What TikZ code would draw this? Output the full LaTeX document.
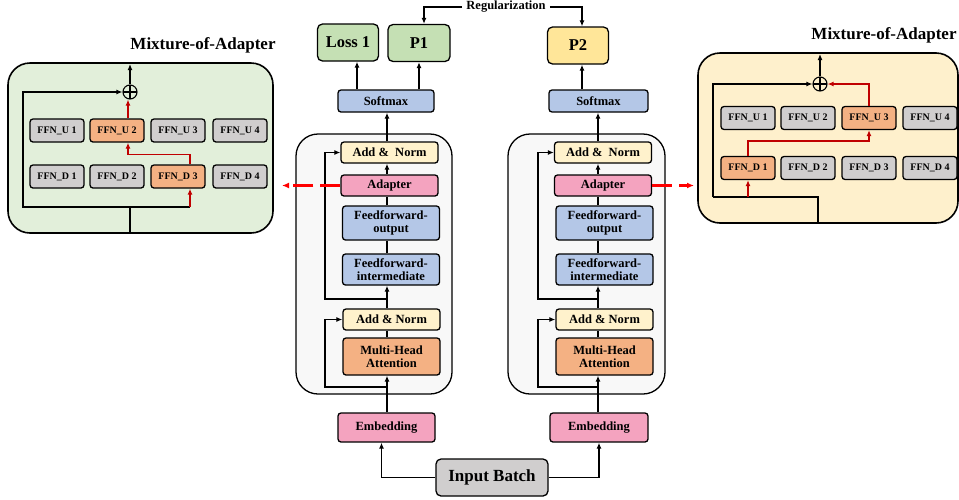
\documentclass[tikz,border=0pt]{standalone}
\usepackage{fontspec}
\setmainfont{Liberation Serif}
\usetikzlibrary{arrows.meta}
\definecolor{boxgreen}{HTML}{C5E0B4}
\definecolor{boxyellow}{HTML}{FFE699}
\definecolor{boxblue}{HTML}{B4C7E7}
\definecolor{normyellow}{HTML}{FFF2CC}
\definecolor{boxorange}{HTML}{F4B183}
\definecolor{boxpink}{HTML}{F4A3BF}
\definecolor{ffngray}{HTML}{D0CECE}
\definecolor{panelgreen}{HTML}{E2EFDA}
\definecolor{panelyellow}{HTML}{FEF0CC}
\definecolor{blockbg}{HTML}{F8F8F8}
\definecolor{adred}{HTML}{C00000}
\definecolor{linkred}{HTML}{FF0000}

\begin{document}
\begin{tikzpicture}[
    x=1pt, y=-1pt,
    box/.style={rectangle, rounded corners=3pt, draw=black, line width=1.3pt, align=center, inner sep=1pt, font=\bfseries\fontsize{12.5}{13.5}\selectfont},
    layer/.style={box, minimum width=97pt, minimum height=21pt},
    outbox/.style={box, rounded corners=5pt, minimum width=61pt, minimum height=37pt, font=\bfseries\fontsize{16.5}{18}\selectfont},
    ffn/.style={box, fill=ffngray, minimum width=54pt, minimum height=23pt, font=\bfseries\fontsize{10}{11}\selectfont},
    panel/.style={rounded corners=22pt, draw=black, line width=1.6pt},
    plus/.style={circle, draw=black, line width=1.1pt, minimum size=14pt, inner sep=0pt, path picture={\draw[line width=1.1pt] (path picture bounding box.north) -- (path picture bounding box.south) (path picture bounding box.west) -- (path picture bounding box.east);}},
    line/.style={line width=1.7pt},
    arrow/.style={-{Latex[length=6pt,width=5pt]}, line width=1.7pt},
    redarrow/.style={arrow, draw=adred},
    dasharrow/.style={-{Latex[length=7pt,width=6pt]}, line width=2.2pt, draw=linkred, dash pattern=on 20pt off 7pt},
    title/.style={font=\bfseries\fontsize{17}{18}\selectfont}
]
    \useasboundingbox (0,0) rectangle (959,499);

    \draw[panel, fill=panelgreen] (8,63) rectangle (273,233);
    \draw[panel, fill=panelyellow] (698,53) rectangle (958,223);
    \draw[panel, line width=1.3pt, fill=blockbg] (296,134) rectangle (452,394);
    \draw[panel, line width=1.3pt, fill=blockbg] (508,134) rectangle (665,394);

    \node[title] (titleL) at (203,45) {Mixture-of-Adapter};
    \node[title] (titleR) at (884,35) {Mixture-of-Adapter};

    \node[outbox, fill=boxgreen] (loss) at (348,42.5) {Loss 1};
    \node[outbox, fill=boxgreen, minimum width=62pt] (p1) at (419,43) {P1};
    \node[outbox, fill=boxyellow] (p2) at (578,45.5) {P2};
    \node[inner sep=4pt, font=\bfseries\fontsize{12.5}{13.5}\selectfont] (reg) at (506,7) {Regularization};

    \node[layer, fill=boxblue, minimum width=96pt, minimum height=22pt] (smL) at (386,101) {Softmax};
    \node[layer, fill=normyellow] (anL1) at (389.5,152.5) {Add \&\ \ Norm};
    \node[layer, fill=boxpink] (adL) at (389.5,185.5) {Adapter};
    \node[layer, fill=boxblue, minimum height=34pt] (ffoL) at (391,223) {Feedforward-\\output};
    \node[layer, fill=boxblue, minimum height=31pt] (ffiL) at (391,269.5) {Feedforward-\\intermediate};
    \node[layer, fill=normyellow] (anL2) at (391.5,319.5) {Add \& Norm};
    \node[layer, fill=boxorange, minimum height=37pt] (mhaL) at (391.5,356.5) {Multi-Head\\Attention};
    \node[layer, fill=boxpink, minimum height=29pt] (embL) at (386.5,427.5) {Embedding};

    \node[layer, fill=boxblue, minimum width=99pt, minimum height=22pt] (smR) at (598.5,101) {Softmax};
    \node[layer, fill=normyellow] (anR1) at (603,152.5) {Add \&\ \ Norm};
    \node[layer, fill=boxpink] (adR) at (603,185.5) {Adapter};
    \node[layer, fill=boxblue, minimum height=34pt] (ffoR) at (604.5,223) {Feedforward-\\output};
    \node[layer, fill=boxblue, minimum height=31pt] (ffiR) at (604.5,269.5) {Feedforward-\\intermediate};
    \node[layer, fill=normyellow] (anR2) at (604.5,319.5) {Add \& Norm};
    \node[layer, fill=boxorange, minimum height=37pt] (mhaR) at (604.5,356.5) {Multi-Head\\Attention};
    \node[layer, fill=boxpink, minimum width=98pt, minimum height=29pt] (embR) at (599,427.5) {Embedding};

    \node[box, fill=ffngray, rounded corners=5pt, minimum width=112pt, minimum height=37pt, font=\bfseries\fontsize{17}{18}\selectfont] (inp) at (492,477.5) {Input Batch};

    \node[ffn] (uL1) at (57,130.5) {FFN\_U 1};
    \node[ffn, fill=boxorange] (uL2) at (117,130.5) {FFN\_U 2};
    \node[ffn] (uL3) at (178,130.5) {FFN\_U 3};
    \node[ffn] (uL4) at (240,130.5) {FFN\_U 4};
    \node[ffn] (dL1) at (57,176.5) {FFN\_D 1};
    \node[ffn] (dL2) at (117,176.5) {FFN\_D 2};
    \node[ffn, fill=boxorange] (dL3) at (178,176.5) {FFN\_D 3};
    \node[ffn] (dL4) at (240,176.5) {FFN\_D 4};
    \node[plus] (plusL) at (130,92) {};

    \node[ffn] (uR1) at (748,118) {FFN\_U 1};
    \node[ffn] (uR2) at (808,118) {FFN\_U 2};
    \node[ffn, fill=boxorange] (uR3) at (869,118) {FFN\_U 3};
    \node[ffn] (uR4) at (930,118) {FFN\_U 4};
    \node[ffn, fill=boxorange] (dR1) at (748,168) {FFN\_D 1};
    \node[ffn] (dR2) at (808,168) {FFN\_D 2};
    \node[ffn] (dR3) at (869,168) {FFN\_D 3};
    \node[ffn] (dR4) at (930,168) {FFN\_D 4};
    \node[plus] (plusR) at (820,84) {};

    \draw[arrow] (reg.west) -| ([xshift=5pt]p1.north);
    \draw[arrow] (reg.east) -| ([xshift=4pt]p2.north);
    \draw[arrow] ([xshift=9pt]loss.south |- smL.north) -- ([xshift=9pt]loss.south);
    \draw[arrow] (p1.south |- smL.north) -- (p1.south);
    \draw[arrow] ([xshift=4pt]p2.south |- smR.north) -- ([xshift=4pt]p2.south);

    \coordinate (colL) at (387,0);
    \draw[arrow] (colL |- anL1.north) -- (colL |- smL.south);
    \draw[arrow] (colL |- adL.north) -- (colL |- anL1.south);
    \draw[line] (colL |- ffoL.north) -- (colL |- adL.south);
    \draw[line] (colL |- ffiL.north) -- (colL |- ffoL.south);
    \draw[arrow] (colL |- anL2.north) -- (colL |- ffiL.south);
    \draw[line] (colL |- mhaL.north) -- (colL |- anL2.south);
    \draw[arrow] (colL |- embL.north) -- (colL |- mhaL.south);
    \coordinate (s1L) at (387,387);
    \coordinate (s2L) at (387,299);
    \draw[arrow] (s1L) -- ++(-62,0) |- (anL2.west);
    \draw[arrow] (s2L) -- ++(-62,0) |- (anL1.west);

    \coordinate (colR) at (598,0);
    \draw[arrow] (colR |- anR1.north) -- (colR |- smR.south);
    \draw[arrow] (colR |- adR.north) -- (colR |- anR1.south);
    \draw[line] (colR |- ffoR.north) -- (colR |- adR.south);
    \draw[line] (colR |- ffiR.north) -- (colR |- ffoR.south);
    \draw[arrow] (colR |- anR2.north) -- (colR |- ffiR.south);
    \draw[line] (colR |- mhaR.north) -- (colR |- anR2.south);
    \draw[arrow] (colR |- embR.north) -- (colR |- mhaR.south);
    \coordinate (s1R) at (598,387);
    \coordinate (s2R) at (598,299);
    \draw[arrow] (s1R) -- ++(-60,0) |- (anR2.west);
    \draw[arrow] (s2R) -- ++(-60,0) |- (anR1.west);

    \draw[arrow] (inp.west) -| ([xshift=-5pt]embL.south);
    \draw[arrow] (inp.east) -| (embR.south);

    \coordinate (outL) at (282,185.5);
    \coordinate (outR) at (694,185.5);
    \draw[dasharrow] (adL.west) -- (outL);
    \draw[dasharrow] (adR.east) -- (outR);

    \coordinate (inL) at (130,233);
    \coordinate (jL) at (130,207);
    \coordinate (skL) at (23,207);
    \coordinate (rdL) at (190,207);
    \coordinate (topL) at (130,64);
    \draw[line] (inL) -- (jL) -- (rdL);
    \draw[arrow] (jL) -- (skL) |- (plusL.west);
    \draw[redarrow] (rdL) -- (rdL |- dL3.south);
    \draw[redarrow] (rdL |- dL3.north) -- ++(0,-10) -| ([xshift=11pt]uL2.south);
    \draw[redarrow] ([xshift=11pt]uL2.north) -- ([xshift=11pt]uL2.north |- plusL.south);
    \draw[arrow] (plusL.north) -- (topL);

    \coordinate (inR) at (818,223);
    \coordinate (jR) at (818,197);
    \coordinate (skR) at (713,197);
    \coordinate (topR) at (820,54);
    \draw[line] (inR) -- (jR) -- (skR);
    \draw[arrow] (skR) |- (plusR.west);
    \draw[redarrow] (dR1.south |- skR) -- (dR1.south);
    \draw[redarrow] (dR1.north) -- ++(0,-15) -| (uR3.south);
    \draw[redarrow] (uR3.north) |- (plusR.east);
    \draw[arrow] (plusR.north) -- (topR);
\end{tikzpicture}
\end{document}
